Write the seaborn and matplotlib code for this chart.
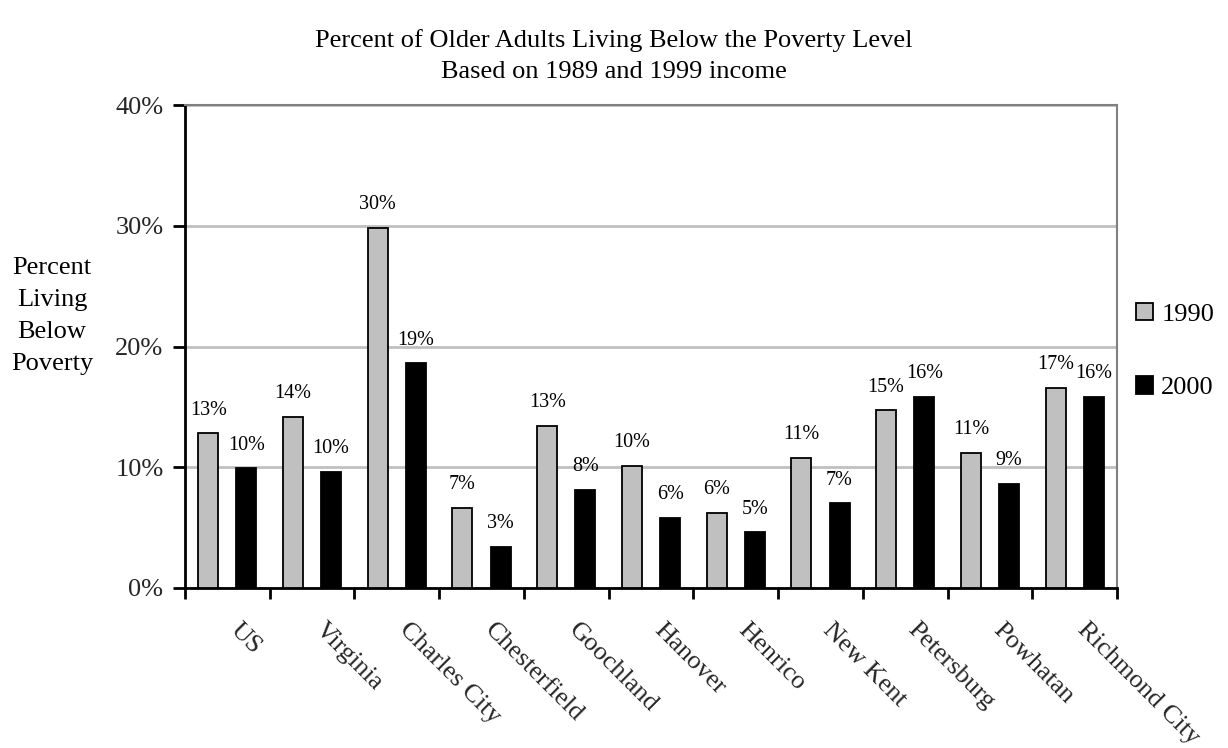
import matplotlib
matplotlib.use("Agg")
import matplotlib.pyplot as plt
from matplotlib.ticker import FixedLocator, FuncFormatter
from matplotlib.transforms import ScaledTranslation
import pandas as pd
import seaborn as sns

# Percent of older adults below poverty, by locality
localities = ["US", "Virginia", "Charles City", "Chesterfield", "Goochland",
              "Hanover", "Henrico", "New Kent", "Petersburg", "Powhatan",
              "Richmond City"]
pct_1990 = [12.8, 14.2, 29.8, 6.6, 13.4, 10.1, 6.2, 10.8, 14.7, 11.2, 16.6]
pct_2000 = [9.9, 9.6, 18.6, 3.4, 8.1, 5.8, 4.6, 7.0, 15.8, 8.6, 15.8]
years = ["1990", "2000"]
y_ticks = [0, 10, 20, 30, 40]

df = pd.DataFrame({
    "Locality": localities * 2,
    "Year": [years[0]] * len(localities) + [years[1]] * len(localities),
    "Percent": pct_1990 + pct_2000,
})

sns.set_theme(style="white")
plt.rcParams["font.family"] = ["Liberation Serif", "DejaVu Serif"]
plt.rcParams["text.color"] = "black"

FS = 19

fig = plt.figure(figsize=(12.28, 7.48), dpi=100)
ax = fig.add_axes([185 / 1228, 1 - 588 / 748, (1117 - 185) / 1228, (588 - 105) / 748])

sns.barplot(data=df, x="Locality", y="Percent", hue="Year", order=localities,
            hue_order=years, palette={"1990": "#c0c0c0", "2000": "#000000"},
            edgecolor="black", linewidth=1.3, width=0.9, gap=0.475,
            errorbar=None, ax=ax, zorder=3)

# value labels
for cont in ax.containers:
    ax.bar_label(cont, fmt=lambda v: f"{v:.0f}%", padding=10, fontsize=14.5,
                 color="black")

ax.set_ylim(0, 40)
ax.set_xlim(-0.5, len(localities) - 0.5)
ax.yaxis.set_major_locator(FixedLocator(y_ticks))
ax.yaxis.set_major_formatter(FuncFormatter(lambda v, _: f"{v:.0f}%"))
ax.grid(axis="y", color="#c0c0c0", linewidth=2, zorder=0)
ax.grid(axis="x", visible=False)
ax.set_axisbelow(True)

for side in ["top", "right"]:
    ax.spines[side].set_color("#808080")
    ax.spines[side].set_linewidth(1.5)
for side in ["left", "bottom"]:
    ax.spines[side].set_color("black")
    ax.spines[side].set_linewidth(2)

ax.tick_params(axis="y", direction="out", length=9, width=2, color="black",
               pad=6.5, labelsize=FS, left=True)
# category boundary ticks
ax.set_xticks([i - 0.5 for i in range(len(localities) + 1)], minor=True)
ax.tick_params(axis="x", which="minor", direction="out", length=8, width=2,
               color="black", bottom=True)
ax.tick_params(axis="x", which="major", length=0, pad=22, labelsize=FS)
ax.set_xticks(range(len(localities)))
ax.set_xticklabels(localities, rotation=-45, ha="left", va="top",
                   rotation_mode="anchor")
shift = ScaledTranslation(14 / 100, 0, fig.dpi_scale_trans)
for lbl in ax.get_xticklabels():
    lbl.set_transform(lbl.get_transform() + shift)
ax.set_xlabel("")
ax.set_ylabel("")

handles, labels = ax.get_legend_handles_labels()
ax.get_legend().remove()
fig.legend(handles, labels, loc="center left",
           bbox_to_anchor=(1136 / 1228, 1 - 351 / 748), frameon=False,
           fontsize=FS, handlelength=0.66, handleheight=0.66,
           handletextpad=0.3, labelspacing=1.92, borderpad=0,
           borderaxespad=0)

fig.text(52 / 1228, 1 - 316 / 748, "Percent\nLiving\nBelow\nPoverty",
         ha="center", va="center", fontsize=FS, linespacing=1.6)

fig.text(0.5, 1 - 56 / 748,
         "Percent of Older Adults Living Below the Poverty Level\n"
         "Based on 1989 and 1999 income",
         ha="center", va="center", fontsize=FS, linespacing=1.5)

fig.savefig("out.png", dpi=100, facecolor="white")
